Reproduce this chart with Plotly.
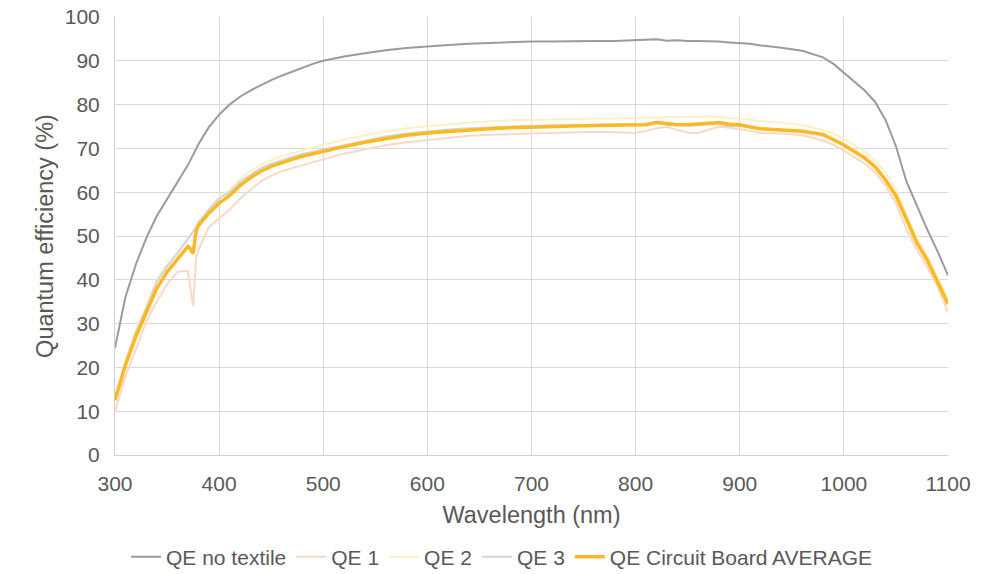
import plotly.graph_objects as go

wavelength = [300,310,320,330,340,350,360,365,370,372,375,378,380,390,400,410,420,430,440,450,
              460,470,480,490,500,520,540,560,580,600,620,640,660,680,700,720,740,760,780,800,
              810,820,830,840,850,860,870,880,890,900,910,920,940,960,980,990,1000,1010,1020,1030,
              1040,1050,1060,1070,1080,1090,1100]

qe_no_textile = [24.5,36,43.5,49.5,54.5,58.3,62.1,64.1,66.2,67.1,68.5,69.9,70.9,74.8,77.7,80,81.8,83.2,84.4,85.6,
                 86.6,87.5,88.4,89.3,90,91,91.7,92.4,92.9,93.3,93.6,93.9,94.1,94.3,94.4,94.4,94.5,94.5,94.5,94.6,
                 94.8,94.9,94.6,94.7,94.5,94.5,94.5,94.4,94.2,94.1,93.9,93.5,93.0,92.3,90.8,89.3,87.3,85.2,83.2,80.6,
                 76.5,70.5,62.5,57,51.5,46.5,41]

qe_1 = [10,18,24,30.5,35,39,41.8,42,42,39,34,45,46.7,52,54,56,58.5,60.5,62.5,63.8,
        64.8,65.5,66.2,66.8,67.5,68.8,69.8,70.7,71.4,71.9,72.3,72.9,73.1,73.3,73.4,73.5,73.6,73.8,73.7,73.5,
        74.0,74.6,74.9,74.2,73.6,73.5,74.2,75.0,74.7,74.4,74.0,73.5,73.4,73.0,71.8,70.8,69.5,68,66.5,64.5,
        61.5,57.5,51.5,47,43,38.5,32.5]

qe_2 = [13,21.5,28.5,34,40,43.5,46.3,47.8,49.3,50,51,52.3,53.3,56,59,60.5,63,64.8,66.3,67.3,
        68.2,68.9,69.6,70.2,70.8,72,73,73.8,74.6,75.1,75.5,75.8,76.2,76.4,76.5,76.6,76.7,76.8,76.9,77.1,
        77.1,77.2,77.2,77.3,77.3,77.3,77.3,77.2,76.9,76.8,76.5,76.2,75.9,75.3,74.2,73.4,72.2,70.8,69.3,67.3,
        64.5,60.5,55,49.5,45.5,40.5,35.5]

qe_3 = [13,21,28,33.5,39.5,43,46,47.6,49.2,49.8,50.8,52,53,56,58.5,60,62.3,64,65.5,66.5,
        67.3,68,68.7,69.2,69.7,70.8,71.8,72.7,73.4,73.9,74.3,74.6,74.8,75.0,75.2,75.3,75.3,75.4,75.4,75.5,
        75.6,76.0,75.4,75.3,75.2,75.3,75.4,75.6,75.0,75.2,74.8,74.4,74.1,73.8,72.9,72.1,70.6,69.2,67.8,65.8,
        62.8,59.2,53.8,48.5,44.5,39.5,34.5]

qe_average = [12.5,20.5,27,32.5,38,41.8,44.7,46.3,47.6,47.2,46,51.2,52.3,55.2,57.5,59.2,61.5,63.3,64.8,65.9,
              66.8,67.5,68.2,68.8,69.3,70.4,71.4,72.3,73.0,73.5,73.9,74.2,74.5,74.7,74.9,75.0,75.1,75.2,75.2,75.3,
              75.4,75.9,75.6,75.4,75.4,75.5,75.6,75.9,75.5,75.4,74.9,74.5,74.2,73.9,73.2,72.1,70.8,69.3,67.8,65.8,
              62.8,59.2,53.8,48.5,44.5,39.5,34.5]

x_ticks = [300, 400, 500, 600, 700, 800, 900, 1000, 1100]
y_ticks = [0, 10, 20, 30, 40, 50, 60, 70, 80, 90, 100]

series = [
    ("QE no textile", qe_no_textile, "#9b9b9b", 2),
    ("QE 1", qe_1, "#f9d8c6", 2),
    ("QE 2", qe_2, "#fcf0c4", 2),
    ("QE 3", qe_3, "#cdd6e1", 2),
    ("QE Circuit Board AVERAGE", qe_average, "#fdb924", 3.5),
]

fig = go.Figure()
for name, vals, color, w in series:
    fig.add_trace(go.Scatter(x=wavelength, y=vals, name=name, mode="lines",
                             line=dict(color=color, width=w)))

font_color = "#595959"
fig.update_layout(
    width=988, height=566,
    paper_bgcolor="white", plot_bgcolor="white",
    margin=dict(l=107, r=48, t=9, b=119),
    font=dict(family="Liberation Sans, Arial, sans-serif", size=21, color=font_color),
    showlegend=True,
    legend=dict(orientation="h", xref="container", yref="container",
                x=0.5, xanchor="center", y=1 - 549 / 566, yanchor="middle",
                font=dict(size=21, color=font_color), itemwidth=30, tracegroupgap=0),
    xaxis=dict(range=[300, 1100], tickvals=x_ticks, showgrid=True, gridcolor="#d9d9d9",
               gridwidth=1, zeroline=False, showline=True, linecolor="#d0d0d0", ticks="",
               automargin=False, ticklabelstandoff=10, ticklabeloverflow="allow",
               title=dict(text="Wavelength (nm)", font=dict(size=23.5, color=font_color), standoff=12),
               tickfont=dict(size=21, color=font_color)),
    yaxis=dict(range=[0, 100], tickvals=y_ticks, showgrid=True, gridcolor="#d9d9d9",
               gridwidth=1, zeroline=False, showline=True, linecolor="#d0d0d0", ticks="",
               automargin=False, ticklabelstandoff=10, ticklabeloverflow="allow",
               title=dict(text="Quantum efficiency (%)", font=dict(size=23.5, color=font_color), standoff=4),
               tickfont=dict(size=21, color=font_color)),
)

fig.write_html("out.html")
